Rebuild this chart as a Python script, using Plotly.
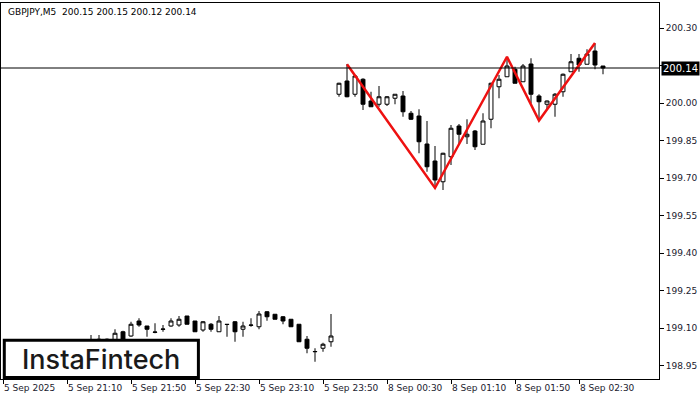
import plotly.graph_objects as go

# candle index: 0 = 5 Sep 20:30, 5-minute bars, weekend gap removed
idx = list(range(11, 76))
opens = [199.05, 199.055, 199.055, 199.052, 199.085, 199.068, 199.128, 199.108, 199.084, 199.096,
         199.108, 199.112, 199.148, 199.128, 199.092, 199.115, 199.085, 199.115, 199.125, 199.095,
         199.112, 199.105, 199.165, 199.155, 199.145, 199.135, 199.115, 199.055, 199.005, 199.019,
         199.045,
         200.035, 200.088, 200.035, 200.095, 200.008, 199.995, 199.995, 200.019, 200.028, 199.959,
         199.948, 199.836, 199.768, 199.685, 199.785, 199.908, 199.865, 199.888, 199.835, 199.935,
         200.065, 200.105, 200.135, 200.085, 200.156, 200.028, 199.995, 199.995, 200.045, 200.125,
         200.179, 200.155, 200.208, 200.148]
highs = [199.072, 199.072, 199.058, 199.095, 199.089, 199.125, 199.139, 199.108, 199.119, 199.112,
         199.139, 199.148, 199.148, 199.128, 199.128, 199.12, 199.148, 199.115, 199.128, 199.125,
         199.139, 199.168, 199.168, 199.155, 199.148, 199.135, 199.115, 199.068, 199.019, 199.041,
         199.156,
         200.081, 200.156, 200.112, 200.099, 200.045, 200.068, 200.028, 200.035, 200.048, 199.968,
         199.975, 199.928, 199.828, 199.801, 199.912, 199.916, 199.935, 199.892, 199.959, 200.081,
         200.112, 200.185, 200.145, 200.156, 200.179, 200.035, 200.01, 200.04, 200.118, 200.196,
         200.196, 200.215, 200.239, 200.148]
lows = [199.04, 199.045, 199.05, 199.045, 199.045, 199.065, 199.105, 199.065, 199.079, 199.085,
        199.105, 199.105, 199.115, 199.085, 199.085, 199.085, 199.085, 199.065, 199.045, 199.065,
        199.105, 199.095, 199.129, 199.135, 199.115, 199.105, 199.045, 198.999, 198.965, 199.005,
        199.025,
        200.025, 200.023, 200.025, 199.972, 199.985, 199.985, 199.988, 199.995, 199.945, 199.932,
        199.799, 199.725, 199.659, 199.652, 199.752, 199.832, 199.836, 199.812, 199.835, 199.899,
        200.019, 200.105, 200.079, 200.085, 199.999, 199.932, 199.972, 199.945, 200.025, 200.125,
        200.125, 200.155, 200.135, 200.115]
closes = [199.052, 199.05, 199.052, 199.079, 199.052, 199.115, 199.112, 199.095, 199.083, 199.095,
          199.128, 199.135, 199.115, 199.085, 199.125, 199.095, 199.128, 199.114, 199.085, 199.108,
          199.111, 199.156, 199.145, 199.135, 199.128, 199.105, 199.045, 199.019, 199.006, 199.035,
          199.068,
          200.079, 200.025, 200.108, 199.995, 199.985, 200.025, 200.025, 200.035, 199.965, 199.935,
          199.845, 199.745, 199.692, 199.799, 199.899, 199.875, 199.875, 199.825, 199.928, 200.079,
          200.095, 200.148, 200.079, 200.148, 200.035, 200.005, 200.008, 200.035, 200.115, 200.165,
          200.152, 200.196, 200.152, 200.14]

pattern_x = [43, 54, 63, 67, 74]
pattern_y = [200.155, 199.66, 200.185, 199.93, 200.24]

last_price = 200.14
tick_idx = [0, 8, 16, 24, 32, 40, 48, 56, 64, 72]
tick_text = ["5 Sep 2025", "5 Sep 21:10", "5 Sep 21:50", "5 Sep 22:30", "5 Sep 23:10",
             "5 Sep 23:50", "8 Sep 00:30", "8 Sep 01:10", "8 Sep 01:50", "8 Sep 02:30"]
price_ticks = [198.95, 199.10, 199.25, 199.40, 199.55, 199.70, 199.85, 200.00, 200.15, 200.30]

fig = go.Figure()

fig.add_trace(go.Candlestick(
    x=idx, open=opens, high=highs, low=lows, close=closes,
    increasing=dict(fillcolor="white", line=dict(color="black", width=1)),
    decreasing=dict(fillcolor="black", line=dict(color="black", width=1)),
    whiskerwidth=0, showlegend=False, hoverinfo="skip"
))

fig.add_trace(go.Scatter(
    x=pattern_x, y=pattern_y, mode="lines",
    line=dict(color="#ee1111", width=2.5), showlegend=False, hoverinfo="skip"
))

fig.add_hline(y=last_price, line=dict(color="black", width=1))

fig.add_annotation(
    x=1, xref="paper", y=last_price, yref="y", text="200.14", showarrow=False,
    xanchor="left", xshift=2, bgcolor="black", borderpad=1,
    font=dict(color="white", size=10, family="DejaVu Sans")
)

fig.add_annotation(
    x=0.007, xref="paper", y=0.995, yref="paper", xanchor="left", yanchor="top",
    text="GBPJPY,M5  200.15 200.15 200.12 200.14", showarrow=False,
    font=dict(color="black", size=9, family="DejaVu Sans")
)

# logo box
fig.add_shape(type="rect", xref="paper", yref="paper", x0=0.005, x1=0.3, y0=0.004, y1=0.103,
              fillcolor="white", line=dict(color="black", width=3), layer="above")
fig.add_annotation(
    x=0.152, xref="paper", y=0.053, yref="paper", text="InstaFintech", showarrow=False,
    xanchor="center", yanchor="middle",
    font=dict(color="#1a1a1a", size=27, family="Inter", weight=500)
)

fig.update_layout(
    width=700, height=400,
    margin=dict(l=1, r=41, t=3, b=21, autoexpand=False),
    paper_bgcolor="white", plot_bgcolor="white",
    xaxis=dict(range=[-0.25, 82], tickvals=tick_idx, ticktext=tick_text, automargin=False,
               showgrid=False, zeroline=False, showline=True, linecolor="black", mirror=True,
               ticks="outside", ticklen=4, tickcolor="black", ticklabelposition="outside right",
               rangeslider=dict(visible=False),
               tickfont=dict(size=9, family="DejaVu Sans", color="#1a1a2e")),
    yaxis=dict(range=[198.896, 200.40], side="right", tickvals=price_ticks, tickformat=".2f",
               automargin=False,
               showgrid=False, zeroline=False, showline=True, linecolor="black", mirror=True,
               ticks="outside", ticklen=4, tickcolor="black",
               tickfont=dict(size=9, family="DejaVu Sans", color="#1a1a2e")),
)

fig.write_html("out.html", config={"displayModeBar": False},
               post_script="document.body.style.margin='0';")
